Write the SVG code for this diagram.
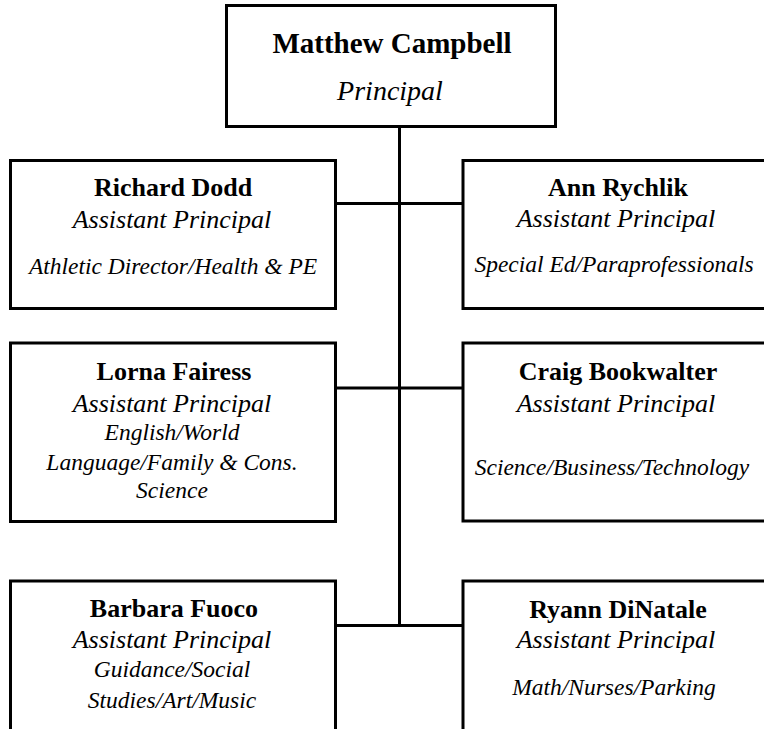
<svg xmlns="http://www.w3.org/2000/svg" width="764" height="729" viewBox="0 0 764 729">
  <style>
    .box { fill: #ffffff; stroke: #000000; stroke-width: 3; }
    .link { fill: none; stroke: #000000; stroke-width: 3; }
    text { font-family: "Liberation Serif", "Times New Roman", serif; fill: #000000; text-anchor: middle; }
    .name { font-weight: bold; font-size: 26px; }
    .role { font-style: italic; font-size: 26px; }
    .area { font-style: italic; font-size: 23.5px; }
  </style>
  <rect width="764" height="729" fill="#ffffff"/>

  <!-- reporting lines -->
  <g id="connectors">
    <path class="link" d="M399.5 126.5 V627"/>
    <path class="link" d="M335.5 203.5 H463"/>
    <path class="link" d="M335.5 388 H463"/>
    <path class="link" d="M335.5 625.5 H463"/>
  </g>

  <g id="principal">
    <rect class="box" x="226.5" y="5.5" width="329" height="121"/>
    <text x="392" y="53" style="font-weight:bold;font-size:29px">Matthew Campbell</text>
    <text x="390" y="100" style="font-style:italic;font-size:28px">Principal</text>
  </g>

  <g id="dodd">
    <rect class="box" x="10.5" y="160.5" width="325" height="148"/>
    <text class="name" x="173" y="196">Richard Dodd</text>
    <text class="role" x="172" y="228">Assistant Principal</text>
    <text class="area" x="173" y="274">Athletic Director/Health &amp; PE</text>
  </g>

  <g id="rychlik">
    <rect class="box" x="463" y="160.5" width="330" height="148"/>
    <text class="name" x="618" y="196">Ann Rychlik</text>
    <text class="role" x="616" y="227">Assistant Principal</text>
    <text class="area" x="614" y="272">Special Ed/Paraprofessionals</text>
  </g>

  <g id="fairess">
    <rect class="box" x="10.5" y="343" width="325" height="178.5"/>
    <text class="name" x="174" y="380">Lorna Fairess</text>
    <text class="role" x="172" y="411.5">Assistant Principal</text>
    <text class="area" x="172" y="440">English/World</text>
    <text class="area" x="172" y="470">Language/Family &amp; Cons.</text>
    <text class="area" x="172" y="498">Science</text>
  </g>

  <g id="bookwalter">
    <rect class="box" x="463" y="343" width="330" height="178"/>
    <text class="name" x="618" y="380">Craig Bookwalter</text>
    <text class="role" x="616" y="411.5">Assistant Principal</text>
    <text class="area" x="612" y="475">Science/Business/Technology</text>
  </g>

  <g id="fuoco">
    <rect class="box" x="10.5" y="581" width="325" height="160"/>
    <text class="name" x="174" y="617">Barbara Fuoco</text>
    <text class="role" x="172" y="648">Assistant Principal</text>
    <text class="area" x="172" y="677">Guidance/Social</text>
    <text class="area" x="172" y="708">Studies/Art/Music</text>
  </g>

  <g id="dinatale">
    <rect class="box" x="463" y="581" width="330" height="160"/>
    <text class="name" x="618" y="618">Ryann DiNatale</text>
    <text class="role" x="616" y="648">Assistant Principal</text>
    <text class="area" x="614" y="695">Math/Nurses/Parking</text>
  </g>
</svg>
